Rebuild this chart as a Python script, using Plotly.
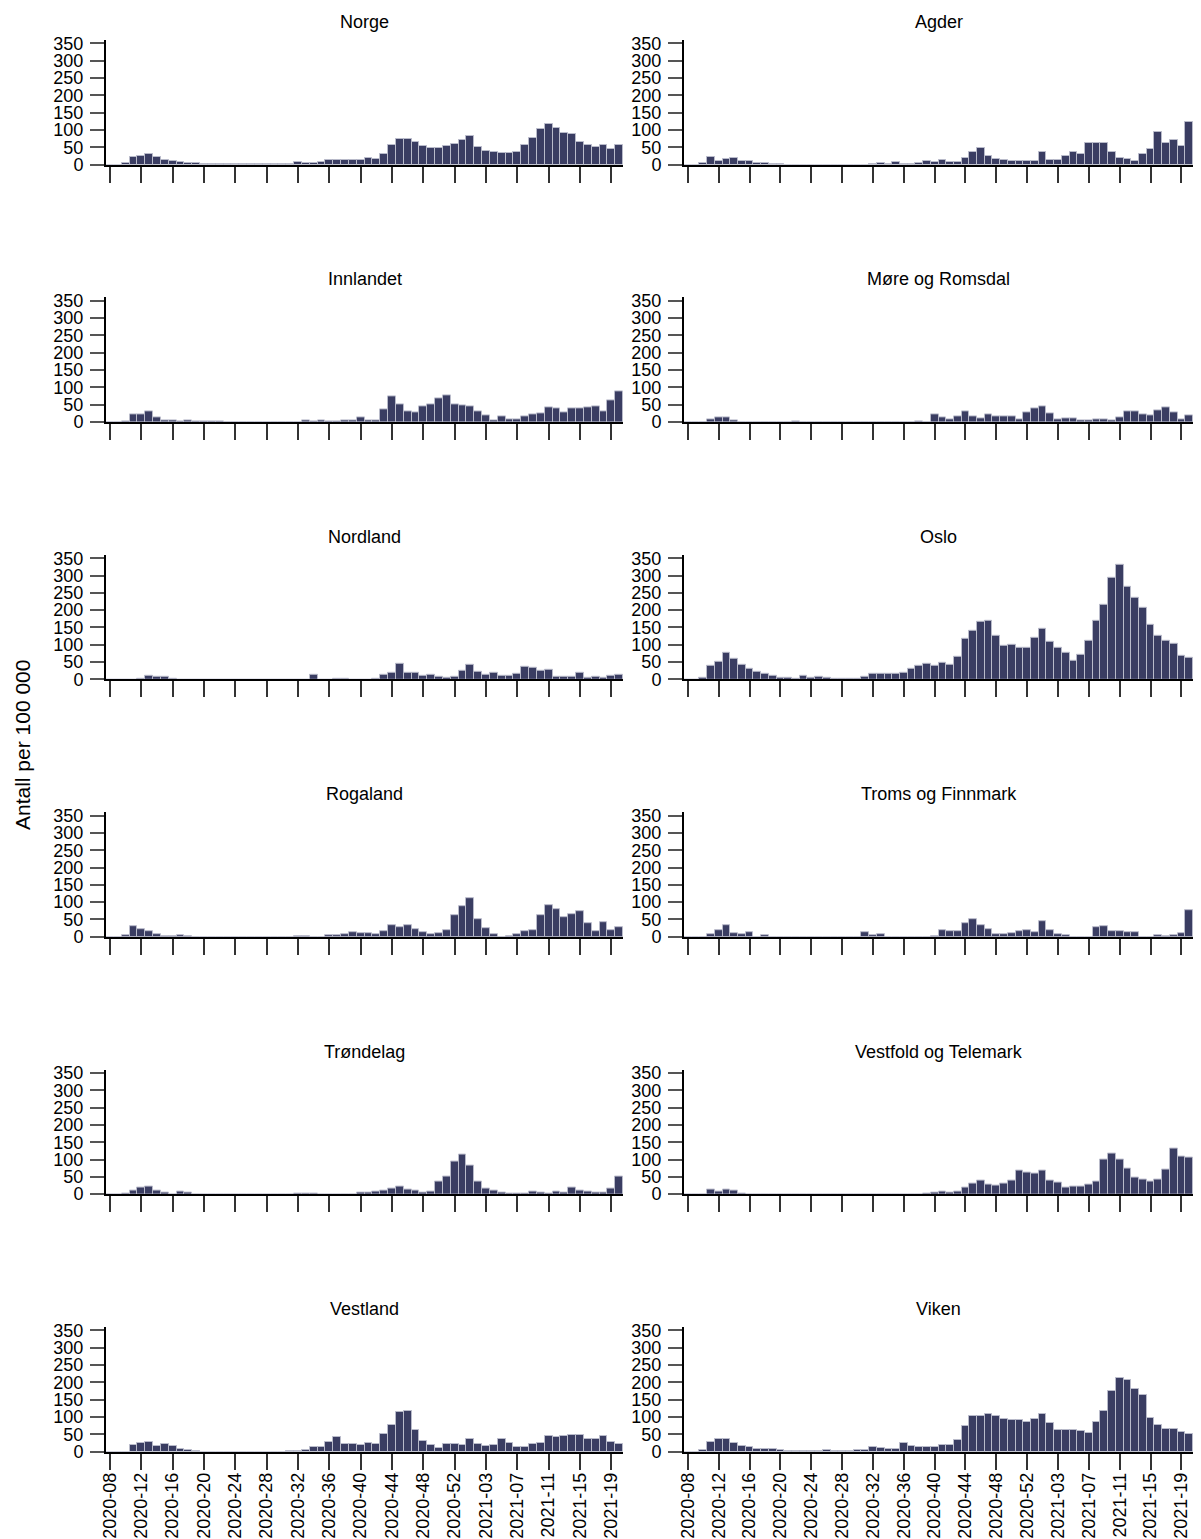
import plotly.graph_objects as go

# ---------------- data ----------------
weeks = [f"2020-{w:02d}" for w in range(8, 54)] + [f"2021-{w:02d}" for w in range(1, 21)]
tick_weeks = weeks[::4]
y_ticks = [0, 50, 100, 150, 200, 250, 300, 350]

regions = ["Norge", "Agder", "Innlandet", "Møre og Romsdal", "Nordland", "Oslo",
           "Rogaland", "Troms og Finnmark", "Trøndelag", "Vestfold og Telemark",
           "Vestland", "Viken"]

norge = [0, 0, 3, 21, 26, 30, 21, 13, 9, 6, 4, 3,
         2, 2, 1, 1, 1, 1, 1, 1, 1, 1, 1, 1,
         6, 4, 4, 6, 12, 13, 12, 13, 14, 18, 16, 31,
         56, 73, 74, 66, 54, 47, 49, 53, 59, 70, 81, 52,
         39, 35, 33, 32, 37, 56, 76, 103, 118, 106, 91, 87,
         65, 56, 50, 55, 46, 56]
agder = [0, 0, 4, 21, 9, 15, 18, 9, 9, 4, 3, 1,
         1, 0, 0, 0, 0, 0, 0, 0, 0, 0, 0, 0,
         1, 4, 1, 6, 1, 1, 3, 11, 8, 13, 8, 6,
         18, 35, 47, 24, 15, 12, 9, 10, 9, 9, 35, 13,
         13, 26, 37, 30, 62, 63, 62, 37, 20, 15, 11, 30,
         45, 93, 62, 72, 53, 122]
innlandet = [0, 0, 2, 23, 23, 29, 14, 5, 4, 2, 4, 2,
             2, 1, 2, 0, 0, 0, 0, 0, 0, 0, 0, 0,
             0, 4, 1, 4, 1, 1, 4, 5, 13, 5, 5, 35,
             75, 52, 29, 28, 44, 50, 69, 78, 52, 49, 44, 31,
             18, 5, 16, 6, 8, 15, 21, 24, 41, 40, 27, 38,
             40, 41, 46, 31, 62, 88]
more_romsdal = [0, 0, 0, 6, 13, 13, 4, 0, 0, 0, 0, 0,
                0, 0, 2, 0, 0, 0, 0, 0, 0, 0, 0, 0,
                0, 0, 0, 0, 0, 0, 2, 0, 21, 12, 8, 16,
                30, 17, 10, 22, 15, 15, 15, 8, 28, 38, 45, 25,
                8, 11, 9, 4, 4, 7, 7, 4, 14, 31, 29, 22,
                20, 33, 43, 27, 7, 19]
nordland = [0, 0, 0, 0, 2, 9, 8, 7, 2, 0, 0, 0,
            0, 0, 0, 0, 0, 0, 0, 0, 0, 0, 0, 0,
            0, 0, 12, 0, 0, 2, 2, 0, 0, 0, 1, 13,
            18, 45, 18, 18, 10, 13, 6, 4, 6, 26, 41, 21,
            14, 18, 11, 9, 15, 37, 32, 24, 27, 6, 7, 7,
            18, 4, 6, 4, 9, 13]
oslo = [0, 0, 4, 38, 50, 78, 60, 41, 29, 21, 15, 10,
        4, 5, 1, 10, 4, 6, 3, 1, 1, 1, 1, 6,
        15, 15, 15, 16, 19, 29, 38, 44, 40, 49, 41, 65,
        117, 141, 167, 170, 125, 97, 99, 91, 91, 120, 147, 109,
        90, 78, 54, 72, 110, 170, 214, 294, 331, 267, 237, 207,
        157, 126, 110, 102, 68, 63]
rogaland = [0, 0, 5, 29, 22, 16, 6, 1, 1, 5, 1, 0,
            0, 0, 0, 0, 0, 0, 0, 0, 0, 0, 0, 0,
            2, 2, 0, 0, 3, 3, 7, 14, 9, 11, 8, 17,
            34, 28, 33, 22, 12, 7, 11, 19, 61, 89, 110, 50,
            25, 8, 0, 2, 6, 17, 20, 61, 91, 79, 55, 66,
            75, 39, 17, 42, 19, 27]
troms_finnmark = [0, 0, 0, 7, 19, 33, 11, 6, 12, 0, 5, 0,
                  0, 0, 0, 0, 0, 0, 0, 0, 0, 0, 0, 14,
                  3, 6, 0, 0, 0, 0, 0, 0, 2, 19, 15, 17,
                  38, 51, 32, 23, 6, 8, 11, 17, 18, 14, 46, 20,
                  8, 5, 0, 0, 0, 28, 30, 17, 17, 12, 12, 0,
                  0, 5, 2, 5, 11, 78]
trondelag = [0, 0, 2, 10, 18, 22, 9, 4, 0, 8, 5, 0,
             0, 0, 0, 0, 0, 0, 0, 0, 0, 0, 0, 0,
             2, 2, 2, 0, 0, 0, 0, 0, 4, 4, 8, 9,
             16, 22, 14, 10, 5, 6, 37, 50, 93, 115, 83, 36,
             17, 10, 4, 2, 2, 2, 6, 4, 2, 6, 5, 18,
             11, 6, 4, 4, 16, 50]
vestfold_telemark = [0, 0, 0, 12, 8, 12, 9, 2, 0, 0, 0, 0,
                     0, 0, 0, 0, 0, 0, 0, 0, 0, 0, 0, 0,
                     0, 0, 0, 0, 0, 0, 0, 2, 5, 6, 5, 8,
                     18, 31, 39, 28, 25, 30, 39, 67, 62, 58, 67, 39,
                     34, 19, 21, 21, 27, 36, 99, 117, 99, 75, 47, 42,
                     37, 42, 70, 132, 108, 105]
vestland = [0, 0, 0, 19, 26, 27, 17, 21, 15, 6, 4, 1,
            0, 0, 0, 0, 0, 0, 0, 0, 0, 0, 0, 2,
            1, 3, 12, 13, 27, 41, 23, 22, 20, 24, 23, 50,
            76, 114, 118, 62, 30, 20, 11, 21, 23, 18, 35, 21,
            15, 20, 35, 24, 12, 14, 22, 24, 44, 42, 46, 47,
            47, 35, 35, 45, 28, 22]
viken = [0, 0, 3, 28, 35, 37, 26, 15, 12, 7, 6, 6,
         3, 1, 1, 1, 1, 1, 3, 1, 1, 1, 3, 4,
         12, 9, 6, 7, 26, 16, 13, 13, 12, 20, 19, 34,
         73, 102, 103, 109, 103, 94, 91, 90, 85, 95, 109, 82,
         63, 61, 62, 58, 53, 84, 116, 176, 212, 207, 181, 164,
         97, 78, 64, 64, 56, 52]

series = [norge, agder, innlandet, more_romsdal, nordland, oslo,
          rogaland, troms_finnmark, trondelag, vestfold_telemark, vestland, viken]

# ---------------- layout ----------------
OFF = 8  # page body margin in the browser
W, H = 1201 - 2 * OFF, 1539 - OFF
FONT = "Arial, Liberation Sans, sans-serif"
BAR = "#3a3d62"
EDGE = "#b9bbca"
col_px = [(106 - OFF, 623 - OFF), (684 - OFF, W)]
ROW0_ZERO = 164.5 - OFF
ROW_STEP = 257.4
PLOT_H = 124.5  # pixels for 0..360

fig = go.Figure()
layout = {}
annotations = []
for i, (name, vals) in enumerate(zip(regions, series)):
    r, c = divmod(i, 2)
    n = i + 1
    xname = "x" if n == 1 else f"x{n}"
    yname = "y" if n == 1 else f"y{n}"
    zero = ROW0_ZERO + ROW_STEP * r
    top = zero - PLOT_H
    x0, x1 = col_px[c]
    fig.add_trace(go.Bar(
        x=weeks, y=vals, xaxis=xname, yaxis=yname, name=name,
        marker=dict(color=BAR, line=dict(color=EDGE, width=1)),
        showlegend=False,
    ))
    layout[f"xaxis{n}"] = dict(
        domain=[x0 / W, x1 / W], anchor=yname, type="category",
        categoryorder="array", categoryarray=weeks, range=[-0.5, len(weeks) - 0.5],
        tickmode="array", tickvals=tick_weeks, ticktext=tick_weeks,
        ticks="outside", ticklen=16, tickwidth=1.5, tickcolor="#333",
        showticklabels=(r == 5), tickangle=-90,
        tickfont=dict(family=FONT, size=18, color="black"),
        showline=True, linecolor="black", linewidth=2,
        showgrid=False, zeroline=False, automargin=False,
        ticklabelstandoff=-4,
    )
    layout[f"yaxis{n}"] = dict(
        domain=[1 - zero / H, 1 - top / H], anchor=xname,
        range=[0, 360], tickmode="array", tickvals=y_ticks,
        ticks="outside", ticklen=14, tickwidth=1.5, tickcolor="#555",
        tickfont=dict(family=FONT, size=18, color="black"),
        showline=True, linecolor="black", linewidth=2,
        showgrid=False, zeroline=False, ticklabelstandoff=3, automargin=False,
    )
    annotations.append(dict(
        text=name, x=(x0 + x1) / 2 / W, y=1 - (top - 18) / H,
        xref="paper", yref="paper", showarrow=False,
        xanchor="center", yanchor="middle",
        font=dict(family=FONT, size=18, color="black"),
    ))

annotations.append(dict(
    text="Antall per 100 000", x=(22 - OFF) / W, y=1 - (745 - OFF) / H,
    xref="paper", yref="paper", showarrow=False, textangle=-90,
    xanchor="center", yanchor="middle",
    font=dict(family=FONT, size=21, color="black"),
))

fig.update_layout(
    width=W, height=H,
    margin=dict(l=0, r=0, t=0, b=0, autoexpand=False),
    paper_bgcolor="white", plot_bgcolor="white",
    bargap=0, barmode="group",
    annotations=annotations,
    **layout,
)

fig.write_html("out.html")
